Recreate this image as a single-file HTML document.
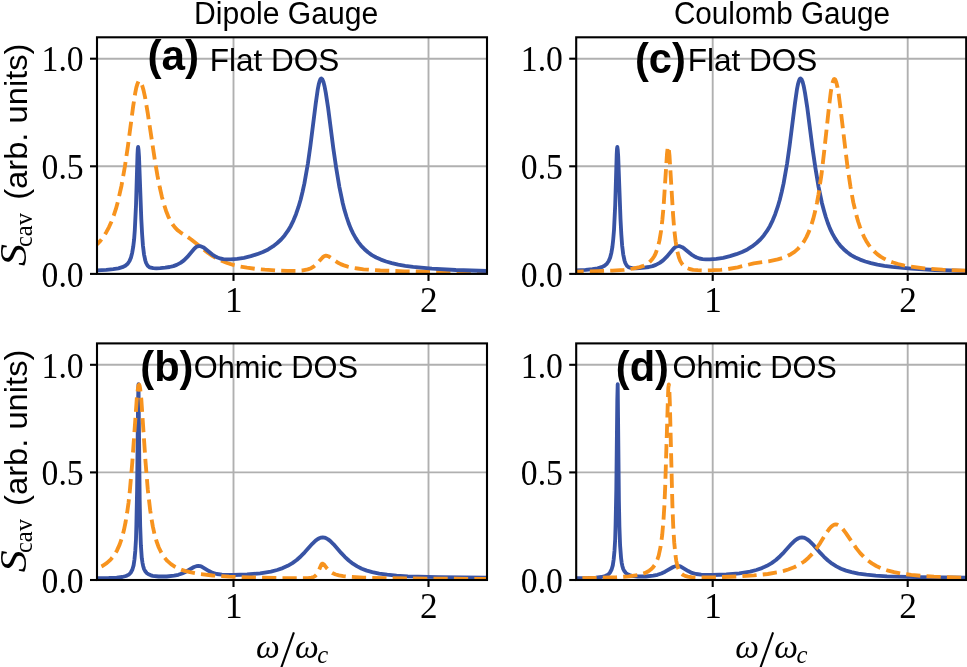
<!DOCTYPE html>
<html><head><meta charset="utf-8"><style>
html,body{margin:0;padding:0;background:#fff;}
body{width:967px;height:667px;overflow:hidden;position:relative;}
svg{position:absolute;left:0;top:0;will-change:transform;}
.grid{stroke:#b0b0b0;stroke-width:1.9;}
.blue{fill:none;stroke:#3853a4;stroke-width:3.85;stroke-linejoin:round;stroke-linecap:square;}
.orange{fill:none;stroke:#f7931e;stroke-width:3.85;stroke-dasharray:14.25 6.16;stroke-linejoin:round;stroke-linecap:butt;}
.spine{fill:none;stroke:#000;stroke-width:2.1;}
.tick,.sl{stroke:#000;stroke-width:2.1;}
.sl{stroke-width:2.1;}
text{fill:#000;}
.ti{font-family:"Liberation Sans",sans-serif;font-size:30.8px;}
.ab{font-family:"Liberation Sans",sans-serif;font-size:42.2px;font-weight:bold;}
.an{font-family:"Liberation Sans",sans-serif;font-size:31.7px;}
.an2{font-family:"Liberation Sans",sans-serif;font-size:31.6px;}
.tk{font-family:"Liberation Serif",serif;font-size:35.3px;}
.om{font-family:"Liberation Serif",serif;font-style:italic;font-size:33.6px;}
.sc{font-family:"Liberation Serif",serif;font-style:italic;font-size:24.7px;}
.yS{font-family:"Liberation Serif",serif;font-style:italic;font-size:38.5px;}
.yc{font-family:"Liberation Serif",serif;font-size:25.6px;}
.yl{font-family:"Liberation Sans",sans-serif;font-size:32px;}
</style></head><body>
<svg width="967" height="667" viewBox="0 0 967 667">
<defs><clipPath id="clipa"><rect x="97.0" y="37.3" width="390.0" height="236.6"/></clipPath><clipPath id="clipb"><rect x="97.0" y="343.4" width="390.0" height="236.6"/></clipPath><clipPath id="clipc"><rect x="576.2" y="37.3" width="390.0" height="236.6"/></clipPath><clipPath id="clipd"><rect x="576.2" y="343.4" width="390.0" height="236.6"/></clipPath></defs>
<line x1="233.5" y1="37.3" x2="233.5" y2="273.9" class="grid"/>
<line x1="428.5" y1="37.3" x2="428.5" y2="273.9" class="grid"/>
<line x1="97.0" y1="166.3" x2="487.0" y2="166.3" class="grid"/>
<line x1="97.0" y1="58.7" x2="487.0" y2="58.7" class="grid"/>
<g clip-path="url(#clipa)">
<path d="M97.0,244.5 100.3,240.9 103.4,236.8 106.3,232.2 108.9,227.3 111.4,221.7 113.7,215.7 115.9,208.9 117.9,201.6 121.5,185.7 124.9,166.5 127.9,146.2 133.2,106.1 135.2,93.2 136.3,87.6 137.4,83.9 138.4,81.6 138.9,81.2 139.4,81.1 140.0,81.4 140.7,82.2 142.1,85.2 143.5,90.1 145.1,97.4 147.7,112.9 155.2,162.4 157.5,175.9 159.8,187.5 161.8,196.4 163.9,204.0 166.0,210.7 168.2,216.3 170.3,220.7 172.5,224.3 174.9,227.4 177.5,230.1 180.4,232.3 187.1,236.6 191.2,239.5 208.1,253.0 212.3,255.8 216.3,258.2 221.6,260.8 227.1,263.0 233.1,264.8 239.6,266.4 247.0,267.7 255.3,268.8 264.7,269.7 275.2,270.4 287.2,270.8 296.5,270.8 302.9,270.4 307.8,269.4 311.1,268.2 314.0,266.3 317.0,263.7 322.8,257.2 324.4,256.1 325.9,255.7 327.4,255.9 329.0,256.6 337.6,262.5 340.7,264.1 343.9,265.4 347.8,266.6 352.3,267.7 357.5,268.5 363.5,269.3 380.3,270.5 404.2,271.3 438.3,271.9 487.0,272.3" class="orange" stroke-dashoffset="7.35"/>
<path d="M97.0,270.4 106.3,269.9 113.2,269.2 118.4,268.4 122.3,267.2 125.3,265.7 127.7,263.7 129.5,261.0 131.0,257.4 132.2,252.7 133.2,246.9 134.1,239.6 134.8,230.1 136.0,205.3 137.5,154.9 137.8,149.0 138.1,146.9 138.5,149.5 139.0,156.6 141.3,219.1 142.1,234.0 142.9,245.2 144.0,254.3 145.3,260.5 146.0,262.7 146.9,264.5 147.8,265.8 149.0,266.9 150.8,267.7 153.2,268.2 156.3,268.4 160.3,268.2 165.2,267.7 169.6,267.0 173.4,266.1 176.7,264.9 180.5,262.9 183.9,260.4 187.4,256.9 194.5,248.5 196.5,246.8 198.4,246.1 200.6,246.2 203.0,247.2 205.2,248.7 212.3,254.6 214.9,256.2 217.5,257.5 220.3,258.5 223.4,259.1 226.8,259.4 230.6,259.4 237.1,258.8 244.0,257.8 250.8,256.2 257.1,254.2 262.9,252.0 268.2,249.4 272.9,246.4 277.3,243.0 281.1,239.5 284.6,235.4 287.8,230.9 290.8,225.9 293.5,220.3 296.0,214.2 298.4,207.2 300.6,199.7 302.5,192.0 304.4,183.4 307.9,163.5 310.4,145.8 315.7,103.8 317.7,89.7 318.7,84.6 319.6,81.2 320.5,79.1 320.9,78.7 321.3,78.5 321.8,78.8 322.4,79.4 323.5,82.1 324.6,86.5 325.8,92.9 328.0,107.1 333.3,148.2 336.2,168.0 339.4,187.1 342.7,203.0 344.6,210.4 346.6,217.0 348.6,223.0 350.8,228.6 353.2,233.6 355.7,238.1 358.3,242.1 361.2,245.8 364.5,249.2 368.0,252.3 371.9,255.1 376.2,257.5 380.9,259.6 386.1,261.5 391.8,263.1 398.2,264.6 405.2,265.8 413.1,266.9 431.9,268.7 455.8,270.0 487.0,271.0" class="blue"/>
</g>
<rect x="97.0" y="37.3" width="390.0" height="236.6" class="spine"/>
<line x1="90.0" y1="273.9" x2="97.0" y2="273.9" class="tick"/>
<line x1="90.0" y1="166.3" x2="97.0" y2="166.3" class="tick"/>
<line x1="90.0" y1="58.7" x2="97.0" y2="58.7" class="tick"/>
<line x1="233.5" y1="273.9" x2="233.5" y2="280.9" class="tick"/>
<line x1="428.5" y1="273.9" x2="428.5" y2="280.9" class="tick"/>
<line x1="233.5" y1="343.4" x2="233.5" y2="580.0" class="grid"/>
<line x1="428.5" y1="343.4" x2="428.5" y2="580.0" class="grid"/>
<line x1="97.0" y1="472.4" x2="487.0" y2="472.4" class="grid"/>
<line x1="97.0" y1="364.8" x2="487.0" y2="364.8" class="grid"/>
<g clip-path="url(#clipb)">
<path d="M97.0,578.2 108.8,578.0 116.7,577.6 122.2,577.0 126.0,576.0 128.8,574.6 129.9,573.6 130.8,572.5 132.4,569.5 133.6,565.4 134.5,559.3 135.3,550.7 136.0,539.0 136.4,524.6 137.1,490.1 138.1,400.0 138.5,384.2 139.7,500.7 140.2,526.6 140.9,545.5 141.8,558.3 142.5,562.8 143.2,566.2 144.1,569.1 145.3,571.3 146.7,573.0 148.5,574.3 150.4,575.1 152.6,575.8 158.6,576.5 166.7,576.5 174.1,575.7 178.3,574.8 182.1,573.5 185.9,571.7 194.0,567.0 196.3,566.2 198.4,565.9 200.2,566.1 202.0,566.8 209.0,571.1 212.7,572.9 216.9,574.0 221.9,574.7 233.2,575.0 247.1,574.5 260.1,573.3 270.9,571.6 277.1,570.0 282.7,568.1 287.7,565.8 292.4,563.1 296.7,560.0 300.9,556.2 304.7,552.3 312.3,543.8 315.6,540.6 317.5,539.2 319.3,538.2 321.0,537.6 322.7,537.4 324.5,537.6 326.3,538.3 328.1,539.4 330.1,540.9 333.6,544.3 341.1,552.9 344.8,556.8 348.8,560.5 352.9,563.7 357.2,566.4 361.8,568.7 366.8,570.6 372.3,572.1 379.2,573.6 387.2,574.7 396.6,575.6 407.8,576.3 438.1,577.2 487.0,577.7" class="blue"/>
<path d="M97.0,568.6 102.2,566.1 106.7,563.2 110.6,559.6 114.0,555.4 117.0,550.4 119.6,544.6 122.0,537.7 124.0,529.8 125.6,522.0 127.1,512.9 128.5,502.9 129.8,491.3 132.3,462.4 136.8,398.5 138.0,387.9 138.5,385.4 139.1,384.6 139.6,385.6 140.1,388.3 141.3,399.1 145.5,461.5 147.8,489.7 150.2,510.2 151.5,518.8 152.8,526.4 154.6,534.5 156.6,541.5 158.8,547.5 161.3,552.7 164.1,557.1 167.3,560.9 171.0,564.1 175.1,566.8 178.3,568.4 181.8,569.9 185.7,571.1 190.0,572.2 200.1,574.1 212.6,575.5 229.0,576.6 249.8,577.4 281.1,578.1 304.8,578.2 308.8,578.0 311.5,577.6 313.6,577.0 315.3,575.9 316.5,574.7 317.5,573.2 318.7,570.9 321.1,565.0 321.8,563.9 322.5,563.6 323.2,563.9 324.1,564.6 327.3,568.8 329.1,570.7 330.9,572.1 332.9,573.3 335.7,574.5 339.0,575.4 343.2,576.1 348.4,576.7 363.6,577.6 387.9,578.2 426.8,578.6 487.0,578.9" class="orange" stroke-dashoffset="15.5"/>
</g>
<rect x="97.0" y="343.4" width="390.0" height="236.6" class="spine"/>
<line x1="90.0" y1="580.0" x2="97.0" y2="580.0" class="tick"/>
<line x1="90.0" y1="472.4" x2="97.0" y2="472.4" class="tick"/>
<line x1="90.0" y1="364.8" x2="97.0" y2="364.8" class="tick"/>
<line x1="233.5" y1="580.0" x2="233.5" y2="587.0" class="tick"/>
<line x1="428.5" y1="580.0" x2="428.5" y2="587.0" class="tick"/>
<line x1="712.7" y1="37.3" x2="712.7" y2="273.9" class="grid"/>
<line x1="907.7" y1="37.3" x2="907.7" y2="273.9" class="grid"/>
<line x1="576.2" y1="166.3" x2="966.2" y2="166.3" class="grid"/>
<line x1="576.2" y1="58.7" x2="966.2" y2="58.7" class="grid"/>
<g clip-path="url(#clipc)">
<path d="M576.2,270.4 585.5,269.9 592.4,269.2 597.6,268.4 601.5,267.2 604.5,265.7 606.9,263.7 608.7,261.0 610.2,257.4 611.4,252.7 612.4,246.9 613.2,239.6 614.0,230.1 615.2,205.3 616.7,154.9 617.0,149.0 617.3,146.9 617.7,149.5 618.2,156.6 620.5,219.1 621.3,234.0 622.1,245.2 623.2,254.3 624.5,260.5 625.2,262.7 626.1,264.5 627.0,265.8 628.2,266.9 630.0,267.7 632.4,268.2 635.5,268.4 639.5,268.2 644.4,267.7 648.8,267.0 652.6,266.1 655.9,264.9 659.7,262.9 663.1,260.4 666.6,256.9 673.7,248.5 675.7,246.8 677.6,246.1 679.8,246.2 682.2,247.2 684.4,248.7 691.5,254.6 694.1,256.2 696.7,257.5 699.5,258.5 702.6,259.1 706.0,259.4 709.8,259.4 716.3,258.8 723.2,257.8 730.0,256.2 736.3,254.2 742.1,252.0 747.4,249.4 752.1,246.4 756.5,243.0 760.3,239.5 763.8,235.4 767.0,230.9 770.0,225.9 772.7,220.3 775.2,214.2 777.6,207.2 779.8,199.7 781.7,192.0 783.6,183.4 787.1,163.5 789.6,145.8 794.9,103.8 796.9,89.7 797.9,84.6 798.8,81.2 799.7,79.1 800.1,78.7 800.5,78.5 801.0,78.8 801.6,79.4 802.7,82.1 803.8,86.5 805.0,92.9 807.2,107.1 812.5,148.2 815.4,168.0 818.6,187.1 821.9,203.0 823.9,210.4 825.8,217.0 827.8,223.0 830.0,228.6 832.4,233.6 834.9,238.1 837.5,242.1 840.4,245.8 843.7,249.2 847.2,252.3 851.1,255.1 855.4,257.5 860.1,259.6 865.3,261.5 871.0,263.1 877.4,264.6 884.4,265.8 892.3,266.9 911.1,268.7 935.0,270.0 966.2,271.0" class="blue"/>
<path d="M576.2,271.6 597.0,271.2 612.4,270.6 624.0,269.8 632.8,268.6 639.7,267.1 642.5,266.2 645.0,265.1 647.3,263.8 649.3,262.3 651.0,260.6 652.6,258.7 654.1,256.5 655.4,254.0 657.6,248.0 659.5,240.4 661.1,230.8 662.4,219.5 663.6,206.2 667.0,153.9 667.6,148.4 667.9,147.0 668.1,146.5 668.5,147.1 668.8,148.9 669.5,155.7 673.1,215.1 674.3,230.0 675.6,241.3 677.2,251.0 679.1,257.9 680.1,260.6 681.4,262.9 682.7,264.8 684.2,266.3 686.6,267.9 689.5,269.0 693.2,269.8 697.8,270.2 704.6,270.4 712.8,270.2 720.9,269.8 728.2,269.0 737.7,267.3 753.7,263.4 768.6,261.3 777.7,259.4 782.7,257.9 787.0,256.2 790.9,254.2 794.5,251.9 797.9,248.9 801.1,245.5 804.0,241.4 806.5,236.9 808.9,231.6 811.2,225.6 813.2,218.9 815.2,211.1 816.9,203.1 818.5,194.3 821.6,173.6 824.2,151.3 829.1,106.0 830.8,92.1 831.8,86.1 832.7,82.1 833.6,79.7 834.0,79.1 834.4,79.0 834.9,79.2 835.4,79.9 836.4,82.6 837.5,87.2 838.6,93.8 840.5,108.3 845.3,148.8 847.7,168.3 850.5,187.0 853.3,202.4 856.6,216.1 858.3,222.0 860.1,227.4 862.0,232.3 864.0,236.8 866.2,240.9 868.5,244.6 871.2,248.1 874.1,251.3 877.2,254.1 880.6,256.6 884.4,258.8 888.5,260.8 893.1,262.5 898.1,264.0 903.6,265.3 909.7,266.5 924.3,268.3 942.6,269.7 966.2,270.7" class="orange" stroke-dashoffset="6.8"/>
</g>
<rect x="576.2" y="37.3" width="390.0" height="236.6" class="spine"/>
<line x1="569.2" y1="273.9" x2="576.2" y2="273.9" class="tick"/>
<line x1="569.2" y1="166.3" x2="576.2" y2="166.3" class="tick"/>
<line x1="569.2" y1="58.7" x2="576.2" y2="58.7" class="tick"/>
<line x1="712.7" y1="273.9" x2="712.7" y2="280.9" class="tick"/>
<line x1="907.7" y1="273.9" x2="907.7" y2="280.9" class="tick"/>
<line x1="712.7" y1="343.4" x2="712.7" y2="580.0" class="grid"/>
<line x1="907.7" y1="343.4" x2="907.7" y2="580.0" class="grid"/>
<line x1="576.2" y1="472.4" x2="966.2" y2="472.4" class="grid"/>
<line x1="576.2" y1="364.8" x2="966.2" y2="364.8" class="grid"/>
<g clip-path="url(#clipd)">
<path d="M576.2,578.2 588.0,578.0 595.9,577.6 601.4,577.0 605.2,576.0 608.0,574.6 609.1,573.6 610.0,572.5 611.6,569.5 612.8,565.4 613.7,559.3 614.5,550.7 615.2,539.0 615.6,524.6 616.3,490.1 617.3,400.0 617.7,384.2 618.9,500.7 619.4,526.6 620.1,545.5 621.1,558.3 621.7,562.8 622.4,566.2 623.3,569.1 624.5,571.3 625.9,573.0 627.7,574.3 629.6,575.1 631.8,575.8 637.8,576.5 645.9,576.5 653.3,575.7 657.5,574.8 661.3,573.5 665.1,571.7 673.2,567.0 675.5,566.2 677.6,565.9 679.4,566.1 681.2,566.8 688.2,571.1 691.9,572.9 696.1,574.0 701.1,574.7 712.4,575.0 726.3,574.5 739.3,573.3 750.1,571.6 756.3,570.0 761.9,568.1 766.9,565.8 771.6,563.1 775.9,560.0 780.1,556.2 783.9,552.3 791.5,543.8 794.8,540.6 796.7,539.2 798.5,538.2 800.2,537.6 801.9,537.4 803.7,537.6 805.5,538.3 807.3,539.4 809.3,540.9 812.8,544.3 820.3,552.9 824.0,556.8 828.0,560.5 832.1,563.7 836.4,566.4 841.0,568.7 846.0,570.6 851.5,572.1 858.4,573.6 866.4,574.7 875.8,575.6 887.0,576.3 917.3,577.2 966.2,577.7" class="blue"/>
<path d="M576.2,578.3 599.8,577.8 616.7,577.2 628.8,576.3 637.7,575.0 641.2,574.2 644.4,573.2 647.0,572.0 649.4,570.6 651.4,569.0 653.2,567.1 654.8,564.9 656.2,562.3 657.5,559.2 658.7,555.6 660.6,546.7 662.2,535.1 663.5,519.9 664.4,505.2 665.2,486.7 667.9,399.3 668.3,388.1 668.8,384.4 669.0,385.4 669.3,388.8 669.8,401.7 672.4,505.1 673.2,525.7 674.2,542.2 675.6,556.1 676.3,561.1 677.3,565.4 678.3,568.7 679.5,571.3 681.0,573.3 682.8,574.8 685.0,575.9 687.8,576.6 691.4,577.1 696.2,577.4 713.9,577.3 737.4,576.5 754.2,575.4 767.8,574.0 779.0,572.0 783.8,570.9 788.2,569.5 794.1,567.3 799.4,564.6 804.2,561.5 808.5,557.7 812.5,553.5 816.4,548.5 820.0,543.3 826.7,532.5 829.6,528.5 831.2,526.7 832.8,525.4 834.2,524.7 835.7,524.5 837.4,524.7 839.1,525.6 840.8,526.9 842.7,528.9 845.9,533.1 853.0,543.6 856.4,548.4 860.2,553.1 863.9,557.0 867.8,560.4 871.9,563.4 876.3,566.0 881.1,568.2 887.2,570.3 894.1,572.2 902.0,573.7 911.2,574.9 921.7,575.9 934.0,576.7 966.2,577.8" class="orange" stroke-dashoffset="14.2"/>
</g>
<rect x="576.2" y="343.4" width="390.0" height="236.6" class="spine"/>
<line x1="569.2" y1="580.0" x2="576.2" y2="580.0" class="tick"/>
<line x1="569.2" y1="472.4" x2="576.2" y2="472.4" class="tick"/>
<line x1="569.2" y1="364.8" x2="576.2" y2="364.8" class="tick"/>
<line x1="712.7" y1="580.0" x2="712.7" y2="587.0" class="tick"/>
<line x1="907.7" y1="580.0" x2="907.7" y2="587.0" class="tick"/>
<text x="194.0" y="23.9" class="ti" textLength="184.2" lengthAdjust="spacingAndGlyphs" >Dipole Gauge</text>
<text x="673.9" y="23.9" class="ti" textLength="216.1" lengthAdjust="spacingAndGlyphs" >Coulomb Gauge</text>
<text x="147.4" y="69.5" class="ab" textLength="51.6" lengthAdjust="spacingAndGlyphs" >(a)</text>
<text x="634.9" y="72.8" class="ab" textLength="50.9" lengthAdjust="spacingAndGlyphs" >(c)</text>
<text x="140.3" y="380.7" class="ab" textLength="53.2" lengthAdjust="spacingAndGlyphs" >(b)</text>
<text x="615.8" y="380.7" class="ab" textLength="53.2" lengthAdjust="spacingAndGlyphs" >(d)</text>
<text x="209.7" y="71.1" class="an" textLength="129.6" lengthAdjust="spacingAndGlyphs" >Flat DOS</text>
<text x="687.8" y="71.1" class="an" textLength="129.6" lengthAdjust="spacingAndGlyphs" >Flat DOS</text>
<text x="193.7" y="378.0" class="an2" textLength="164.3" lengthAdjust="spacingAndGlyphs" >Ohmic DOS</text>
<text x="672.6" y="378.0" class="an2" textLength="164.3" lengthAdjust="spacingAndGlyphs" >Ohmic DOS</text>
<text x="41.6" y="286.6" class="tk" textLength="42.1" lengthAdjust="spacingAndGlyphs" >0.0</text>
<text x="41.6" y="179.0" class="tk" textLength="42.1" lengthAdjust="spacingAndGlyphs" >0.5</text>
<text x="41.6" y="71.4" class="tk" textLength="42.1" lengthAdjust="spacingAndGlyphs" >1.0</text>
<text x="225.0" y="311.8" class="tk" textLength="17.6" lengthAdjust="spacingAndGlyphs" >1</text>
<text x="420.0" y="311.8" class="tk" textLength="17.6" lengthAdjust="spacingAndGlyphs" >2</text>
<text x="41.6" y="592.7" class="tk" textLength="42.1" lengthAdjust="spacingAndGlyphs" >0.0</text>
<text x="41.6" y="485.1" class="tk" textLength="42.1" lengthAdjust="spacingAndGlyphs" >0.5</text>
<text x="41.6" y="377.5" class="tk" textLength="42.1" lengthAdjust="spacingAndGlyphs" >1.0</text>
<text x="225.0" y="617.9" class="tk" textLength="17.6" lengthAdjust="spacingAndGlyphs" >1</text>
<text x="420.0" y="617.9" class="tk" textLength="17.6" lengthAdjust="spacingAndGlyphs" >2</text>
<text x="520.8" y="286.6" class="tk" textLength="42.1" lengthAdjust="spacingAndGlyphs" >0.0</text>
<text x="520.8" y="179.0" class="tk" textLength="42.1" lengthAdjust="spacingAndGlyphs" >0.5</text>
<text x="520.8" y="71.4" class="tk" textLength="42.1" lengthAdjust="spacingAndGlyphs" >1.0</text>
<text x="704.2" y="311.8" class="tk" textLength="17.6" lengthAdjust="spacingAndGlyphs" >1</text>
<text x="899.2" y="311.8" class="tk" textLength="17.6" lengthAdjust="spacingAndGlyphs" >2</text>
<text x="520.8" y="592.7" class="tk" textLength="42.1" lengthAdjust="spacingAndGlyphs" >0.0</text>
<text x="520.8" y="485.1" class="tk" textLength="42.1" lengthAdjust="spacingAndGlyphs" >0.5</text>
<text x="520.8" y="377.5" class="tk" textLength="42.1" lengthAdjust="spacingAndGlyphs" >1.0</text>
<text x="704.2" y="617.9" class="tk" textLength="17.6" lengthAdjust="spacingAndGlyphs" >1</text>
<text x="899.2" y="617.9" class="tk" textLength="17.6" lengthAdjust="spacingAndGlyphs" >2</text>
<text x="256.0" y="658.2" class="om" >ω</text>
<text x="295.1" y="658.2" class="om" >ω</text>
<text x="317.3" y="663.3" class="sc" >c</text>
<line x1="293.9" y1="632.3" x2="280.4" y2="670" class="sl"/>
<text x="735.2" y="658.2" class="om" >ω</text>
<text x="774.3" y="658.2" class="om" >ω</text>
<text x="796.5" y="663.3" class="sc" >c</text>
<line x1="773.1" y1="632.3" x2="759.6" y2="670" class="sl"/>
<text transform="translate(26.2,266.1) rotate(-90)" class="yS" textLength="22.0" lengthAdjust="spacingAndGlyphs">S</text>
<text transform="translate(32.0,247.0) rotate(-90)" class="yc" textLength="34.0" lengthAdjust="spacingAndGlyphs">cav</text>
<text transform="translate(27.0,199.8) rotate(-90)" class="yl" textLength="156.3" lengthAdjust="spacingAndGlyphs">(arb. units)</text>
<text transform="translate(26.2,572.2) rotate(-90)" class="yS" textLength="22.0" lengthAdjust="spacingAndGlyphs">S</text>
<text transform="translate(32.0,553.1) rotate(-90)" class="yc" textLength="34.0" lengthAdjust="spacingAndGlyphs">cav</text>
<text transform="translate(27.0,505.9) rotate(-90)" class="yl" textLength="156.3" lengthAdjust="spacingAndGlyphs">(arb. units)</text>
</svg>
</body></html>
